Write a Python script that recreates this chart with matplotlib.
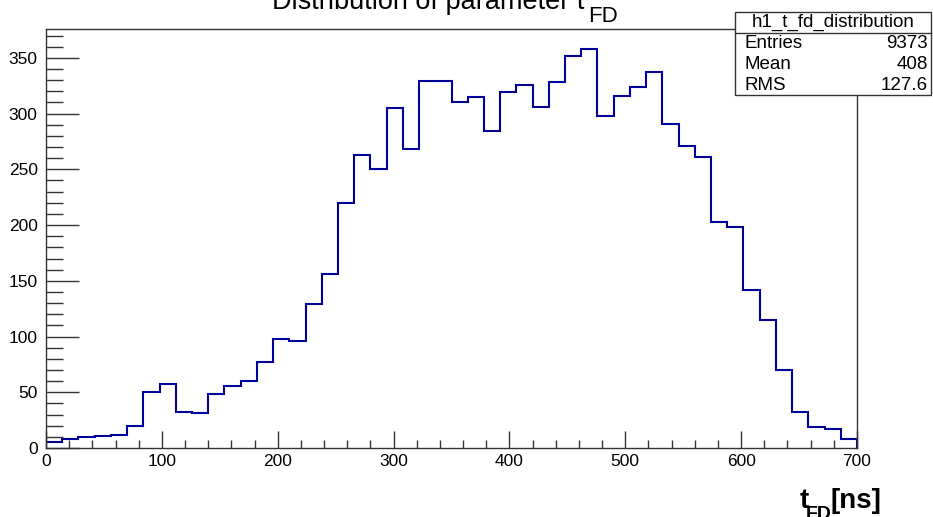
#!/usr/bin/env python3
"""Histogram of t_FD, ROOT-style look."""
import numpy as np
import matplotlib
matplotlib.use("Agg")
import matplotlib.pyplot as plt
from matplotlib.patches import Rectangle
from matplotlib.ticker import MultipleLocator

W, H = 933, 517

# histogram: 50 bins of 14 ns between 0 and 700
bin_edges = np.linspace(0, 700, 51)
counts = [5, 8, 10, 11, 12, 20, 50, 57, 32, 31,
          48, 56, 60, 77, 98, 96, 129, 156, 220, 263,
          250, 305, 268, 329, 329, 310, 315, 284, 319, 326,
          306, 328, 352, 358, 298, 316, 324, 337, 291, 271,
          261, 203, 198, 142, 115, 70, 32, 19, 17, 8]

stats_name = "h1_t_fd_distribution"
stats_rows = [("Entries", "9373"), ("Mean", "408"), ("RMS", "127.6")]

plt.rcParams["font.family"] = ["Liberation Sans", "DejaVu Sans"]


def fx(x):
    return x / W


def fy(y):
    return 1 - y / H


fig = plt.figure(figsize=(W / 100, H / 100), dpi=100)
ax = fig.add_axes([fx(46), fy(448), fx(857) - fx(46), fy(29) - fy(448)])

ax.stairs(counts, bin_edges, color="#000099", lw=1.5)
ax.set_xlim(0, 700)
ax.set_ylim(0, max(counts) * 1.05)

ax.xaxis.set_major_locator(MultipleLocator(100))
ax.xaxis.set_minor_locator(MultipleLocator(20))
ax.yaxis.set_major_locator(MultipleLocator(50))
ax.yaxis.set_minor_locator(MultipleLocator(10))
ax.tick_params(axis="both", which="both", direction="in", top=False, right=False,
               color="#333333", width=1, labelsize=12.5)
ax.tick_params(axis="x", which="major", length=12, pad=4)
ax.tick_params(axis="x", which="minor", length=6)
ax.tick_params(axis="y", which="major", length=24, pad=6)
ax.tick_params(axis="y", which="minor", length=12)
for s in ax.spines.values():
    s.set_color("#333333")
    s.set_linewidth(1)

# title, partly cut at top like the original
fig.text(fx(584), fy(9), "Distribution of parameter t", ha="right", va="baseline",
         fontsize=19.5)
fig.text(fx(588), fy(22), "FD", ha="left", va="baseline", fontsize=16)

# x axis title
fig.text(fx(809), fy(508), "t", ha="right", va="baseline", fontsize=20,
         fontweight="bold")
fig.text(fx(806), fy(519), "FD", ha="left", va="baseline", fontsize=14,
         fontweight="bold")
fig.text(fx(830), fy(508), "[ns]", ha="left", va="baseline", fontsize=20,
         fontweight="bold")

# stats box
x0, x1, y0, y1, ysep = 735, 931, 12, 95, 33
fig.patches.append(Rectangle((fx(x0), fy(y1)), fx(x1) - fx(x0), fy(y0) - fy(y1),
                             transform=fig.transFigure, facecolor="white",
                             edgecolor="#333333", lw=1, zorder=5))
fig.lines.append(plt.Line2D([fx(x0), fx(x1)], [fy(ysep), fy(ysep)],
                            transform=fig.transFigure, color="#333333", lw=1,
                            zorder=6))
fig.text(fx((x0 + x1) / 2), fy(22), stats_name, ha="center", va="center",
         fontsize=13.5, zorder=7)
for i, (k, v) in enumerate(stats_rows):
    yy = 44 + i * 20.5
    fig.text(fx(x0 + 9), fy(yy), k, ha="left", va="center", fontsize=13.5, zorder=7)
    fig.text(fx(x1 - 3), fy(yy), v, ha="right", va="center", fontsize=13.5, zorder=7)

fig.savefig("out.png", dpi=100)
